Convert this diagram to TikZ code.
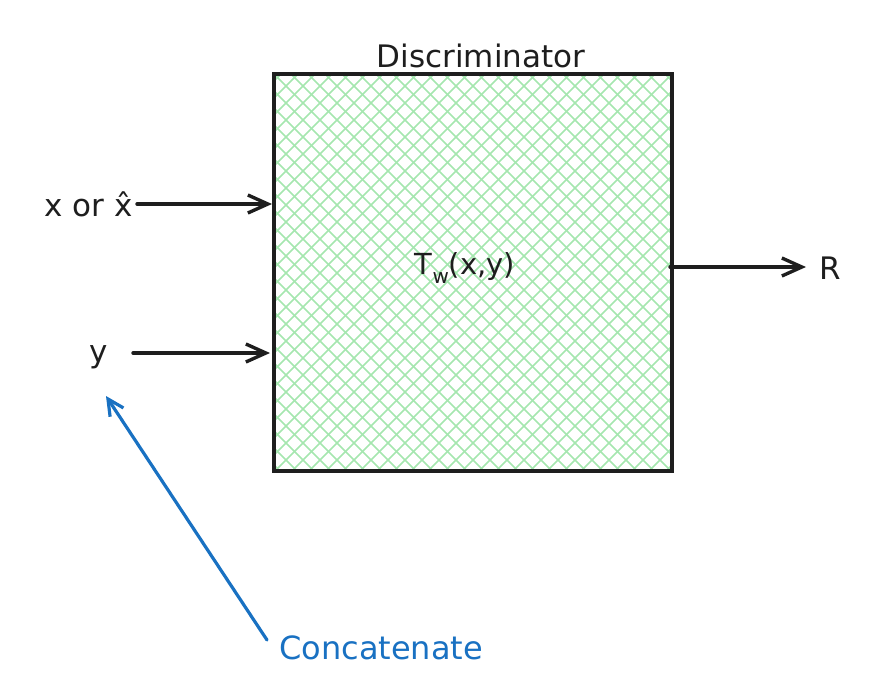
\documentclass[tikz,border=0pt]{standalone}
\usepackage{fontspec}
\setmainfont{DejaVu Sans}
\usetikzlibrary{arrows.meta}
\definecolor{hatch}{RGB}{165,230,175}
\definecolor{exblue}{RGB}{25,113,194}
\definecolor{ink}{RGB}{30,30,30}
\tikzset{
  conn/.style={line width=3.4pt, ink, line cap=round, -{Straight Barb[length=20pt,width=18pt,line width=3.4pt]}},
  bconn/.style={line width=3.2pt, exblue, line cap=round, -{Straight Barb[length=16pt,width=16pt,line width=3.2pt]}},
  lbl/.style={font=\fontsize{29}{33}\selectfont, text=ink, inner sep=0pt},
  blk/.style={draw=ink, line width=3.6pt, minimum width=398pt, minimum height=397pt, inner sep=0pt}
}
\begin{document}
\begin{tikzpicture}[x=1pt,y=-1pt]
\useasboundingbox (0,0) rectangle (879,699);
% hatch fill
\begin{scope}
\clip (274,74) rectangle (672,471);
\foreach \i in {-425,-408,...,425} {
  \draw[hatch, line width=1.6pt] (274+\i,74) -- (274+\i+400,474);
  \draw[hatch, line width=1.6pt] (672-\i,74) -- (672-\i-400,474);
}
\end{scope}
\node[blk] (box) at (473,272.5) {};
\node[lbl, font=\fontsize{31}{35}\selectfont] (title) at (481,56) {Discriminator};
\node[lbl] (tw) at (465,268) {T\raisebox{-9pt}{\fontsize{20}{24}\selectfont w}(x,y)};
\node[lbl, font=\fontsize{31}{35}\selectfont, anchor=east] (xin) at (133,204) {x or \^{x}};
\node[lbl, font=\fontsize{31}{35}\selectfont] (yin) at (99,357) {y};
\node[lbl, font=\fontsize{31}{35}\selectfont] (rout) at (830,268) {R};
\node[lbl, font=\fontsize{32}{36}\selectfont, text=exblue, anchor=west] (concat) at (279,648) {Concatenate};
\coordinate (xe) at (272,204);
\coordinate (ys) at (133,353);
\coordinate (ye) at (270,353);
\coordinate (rs) at (670,267);
\coordinate (re) at (806,267);
\coordinate (cs) at (267,640);
\coordinate (ce) at (106,396);
\draw[conn] (xin.east) ++(4,0) -- (xe);
\draw[conn] (ys) -- (ye);
\draw[conn] (rs) -- (re);
\draw[bconn] (cs) -- (ce);
\end{tikzpicture}
\end{document}
